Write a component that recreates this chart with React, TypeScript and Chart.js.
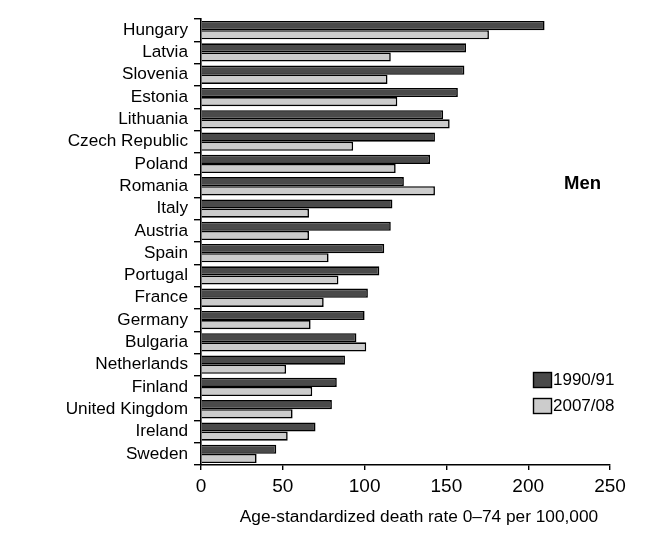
import React, { useEffect, useRef } from "react";
import { Chart, registerables } from "chart.js";

Chart.register(...registerables);

const countries = [
  "Hungary", "Latvia", "Slovenia", "Estonia", "Lithuania", "Czech Republic", "Poland",
  "Romania", "Italy", "Austria", "Spain", "Portugal", "France", "Germany", "Bulgaria",
  "Netherlands", "Finland", "United Kingdom", "Ireland", "Sweden",
];
const rate1990 = [210, 162, 161, 157, 148, 143, 140, 124, 117, 116, 112, 109, 102, 100, 95, 88, 83, 80, 70, 46];
const rate2007 = [176, 116, 114, 120, 152, 93, 119, 143, 66, 66, 78, 84, 75, 67, 101, 52, 68, 56, 53, 34];
const seriesLabels = ["1990/91", "2007/08"];
const seriesColors = ["#4a4a4a", "#cccccc"];
const xMin = 0;
const xMax = 250;
const xStep = 50;
const xTitle = "Age-standardized death rate 0\u201374 per 100,000";
const panelTitle = "Men";

const FONT = "'Liberation Sans', Arial, sans-serif";

const overlayPlugin = {
  id: "overlay",
  afterDraw(chart: any) {
    const ctx = chart.ctx;
    ctx.save();
    ctx.fillStyle = "#000";
    ctx.font = `bold 18.5px ${FONT}`;
    ctx.textAlign = "left";
    ctx.textBaseline = "middle";
    ctx.fillText(panelTitle, 564, 184);
    ctx.font = `17px ${FONT}`;
    const ds = chart.data.datasets;
    ds.forEach((d: any, i: number) => {
      const y = 372.5 + i * 26;
      ctx.fillStyle = d.backgroundColor;
      ctx.fillRect(533.5, y, 18, 15);
      ctx.strokeStyle = "#000";
      ctx.lineWidth = 1.4;
      ctx.strokeRect(533.5, y, 18, 15);
      ctx.fillStyle = "#000";
      ctx.fillText(d.label, 553, y + 8);
    });
    ctx.font = `17.3px ${FONT}`;
    ctx.textAlign = "center";
    ctx.fillText(xTitle, 419, 517);
    ctx.restore();
  },
};

export default function App() {
  const ref = useRef<HTMLCanvasElement | null>(null);
  useEffect(() => {
    if (!ref.current) return;
    const common = { borderColor: "#000", borderWidth: 1.6, categoryPercentage: 0.82, barPercentage: 1 };
    const chart = new Chart(ref.current, {
      type: "bar",
      data: {
        labels: countries,
        datasets: [
          { label: seriesLabels[0], data: rate1990, backgroundColor: seriesColors[0], ...common },
          { label: seriesLabels[1], data: rate2007, backgroundColor: seriesColors[1], ...common },
        ],
      },
      options: {
        indexAxis: "y",
        animation: false,
        responsive: true,
        maintainAspectRatio: false,
        layout: { padding: { top: 19, right: 61, bottom: 0, left: 0 } },
        plugins: {
          legend: { display: false },
          tooltip: { enabled: false },
        },
        scales: {
          x: {
            type: "linear",
            min: xMin,
            max: xMax,
            ticks: {
              stepSize: xStep,
              color: "#000",
              font: { family: FONT, size: 19 },
              padding: 5,
            },
            grid: {
              drawOnChartArea: false,
              drawTicks: true,
              tickLength: 5,
              color: "#000",
              lineWidth: 1.4,
            },
            border: { display: true, color: "#000", width: 1.6 },
            afterFit: (scale: any) => {
              scale.height = 73;
            },
          },
          y: {
            type: "category",
            ticks: {
              color: "#000",
              font: { family: FONT, size: 17.2 },
              padding: 6,
              autoSkip: false,
            },
            grid: {
              offset: true,
              drawOnChartArea: false,
              drawTicks: true,
              tickLength: 7,
              color: "#000",
              lineWidth: 1.4,
            },
            border: { display: true, color: "#000", width: 1.6 },
            afterFit: (scale: any) => {
              scale.width = 201;
            },
          },
        },
      },
      plugins: [overlayPlugin],
    });
    return () => chart.destroy();
  }, []);
  return (
    <div style={{ position: "absolute", left: 0, top: 0, width: 671, height: 538, background: "#fff" }}>
      <canvas ref={ref} />
    </div>
  );
}
